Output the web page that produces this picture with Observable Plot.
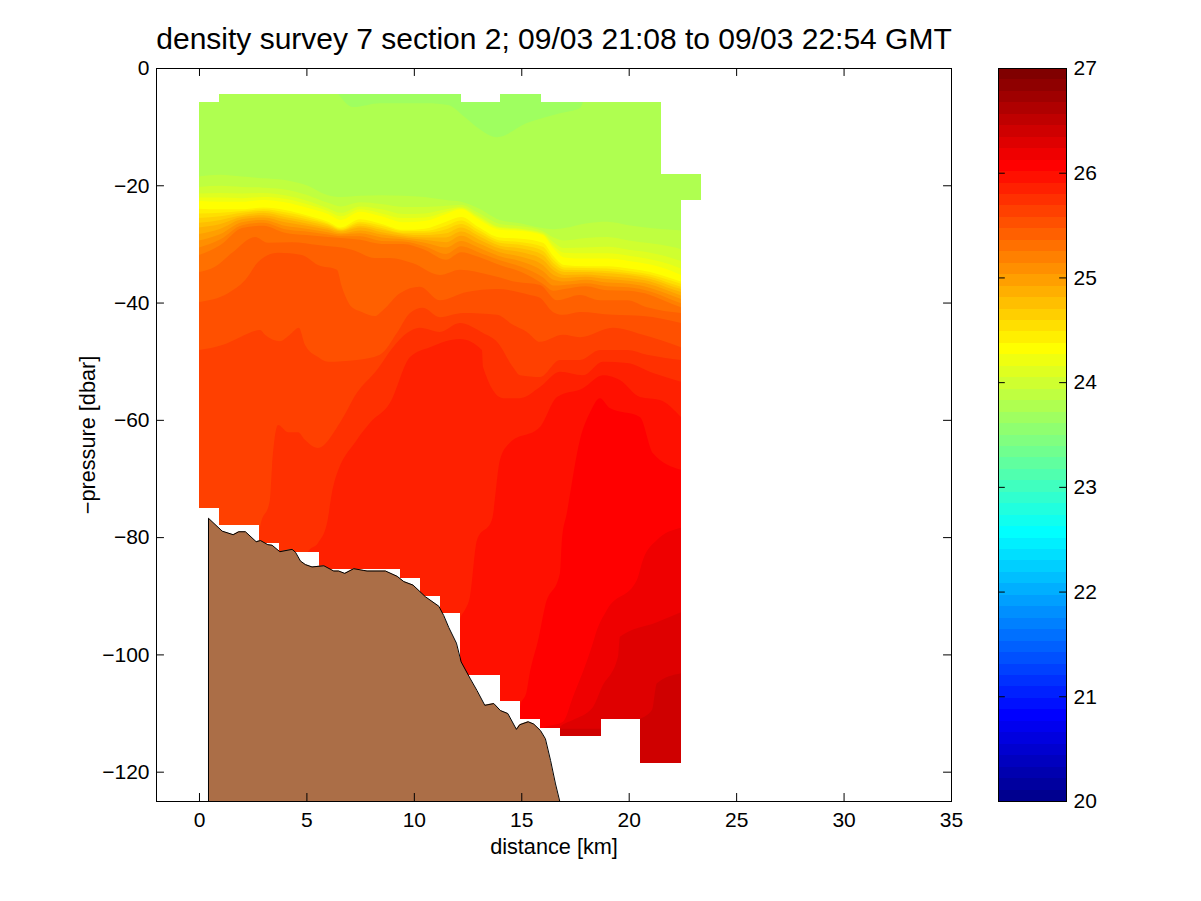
<!DOCTYPE html>
<html><head><meta charset="utf-8">
<script src="https://cdn.jsdelivr.net/npm/d3@7"></script>
<script src="https://cdn.jsdelivr.net/npm/@observablehq/plot@0.6"></script>
<style>html,body{margin:0;padding:0;background:#fff;overflow:hidden}#wrap{position:relative;width:1201px;height:901px}#wrap svg{position:absolute;left:0;top:0;display:block;background:none}</style>
</head><body><div id="wrap"></div>
<script>
const titleText = "density survey 7 section 2; 09/03 21:08 to 09/03 22:54 GMT";
const xTicks = [0,5,10,15,20,25,30,35];
const yTicks = [0,-20,-40,-60,-80,-100,-120];
const cTicks = [20,21,22,23,24,25,26,27];

// section outline (km, pressure)
const topKm = [-2,0,.93,12.19,14.01,15.92,21.5,23.36,35];
const topP  = [125,5.8,4.4,5.8,4.4,5.8,18.1,125,125];
const botKm = [-2,0,.93,2.79,3.72,5.58,9.35,10.28,11.21,12.14,14.01,14.94,15.87,16.8,18.71,20.52,22.43,23.36,35];
const botP  = [0,75,77.9,81,82.5,85.4,87,90,92.9,103.5,107.9,111,112.5,113.9,111,118.5,22.5,0,0];

// bathymetry
const seabedKm = [.42,.42,1.06,1.57,1.83,2.14,2.64,2.84,3.18,3.38,3.74,4.31,4.47,4.7,4.93,5.24,5.79,6.25,6.48,6.76,7.18,7.65,7.8,8.66,9.2,9.51,9.94,10.52,11.14,11.37,11.6,11.96,12.18,12.61,12.92,13.28,13.7,14.01,14.35,14.75,14.91,15.3,15.56,15.87,16.1,16.34,16.57,16.77];
const seabedP  = [125,76.7,78.9,79.5,79,79,80.7,80.5,81.2,81.3,82.4,82,82.5,84,84.6,85,84.8,85.7,85.7,86.1,85.3,85.6,85.7,85.7,86.6,87.5,88.1,90.1,91.7,93.3,95.3,98,101.2,104.1,106.1,108.6,108.3,109.5,110,112.7,111.9,111.4,111.8,112.9,114.3,118,122,125];

// lighter near-surface patch
const patchKm = [6.47,7.17,8.42,10.61,11.59,12.38,12.94,13.87,15.26,16.8,17.73,17.87];
const patchP  = [4.4,6.65,6,6,6.3,8.4,10.1,11.8,9.4,7.7,6.8,5.8];

// isopycnals through the pycnocline, on one shared distance list
const gridKm = [0,1,2,3,4,5,6,6.6,7.5,8.5,9.5,10.5,11.5,12.2,13,14,15,16,16.5,17,18,19,20,21,22,22.43];
const iso36 = [18.5,18.2,18.5,18.8,19.1,20,21.7,22,21.8,21.7,21.8,22,22.5,22.8,23.9,25.9,26.5,27.3,27.5,27.3,26.5,26.2,26.8,27.3,27.6,27.7];
const iso37 = [20.3,20.1,20.3,20.4,20.7,21.6,23,23.6,22.9,23.2,23.7,23.7,23.5,23.3,24.7,26.6,27,27.8,28.9,29.4,29,28.8,29.4,29.9,30.5,30.9];
const iso38 = [21.4,21.3,21.4,21.3,21.7,22.6,23.9,24.7,23.6,24.1,24.9,24.8,24.1,23.7,25.2,27.1,27.4,28.1,29.7,30.7,30.6,30.5,31,31.5,32.4,32.9];
const iso39 = [22.1,22.1,22.2,22,22.3,23.2,24.4,25.3,24.1,24.8,25.6,25.5,24.5,23.9,25.5,27.3,27.6,28.3,30.3,31.5,31.6,31.6,32,32.6,33.6,34.2];
const iso40 = [22.7,22.8,22.8,22.5,22.9,23.8,24.9,25.9,24.5,25.3,26.3,26.1,24.9,24.1,25.8,27.6,27.8,28.5,30.8,32.3,32.5,32.5,32.9,33.5,34.6,35.3];
const iso41 = [24,24.1,24.1,23.8,24.2,25.1,26.2,27.2,25.8,26.6,27.6,27.4,26.2,25.4,27.1,28.9,29.1,29.8,32.1,33.6,33.8,33.8,34.2,34.8,35.9,36.4];
const iso42 = [24.8,24.7,24.4,24.1,24.6,25.4,26.5,27.4,26.2,26.9,27.8,27.8,26.9,26,27.6,29.4,29.7,30.5,32.7,34,34.1,34.2,34.6,35.2,36.3,36.8];
const iso43 = [25.6,25.3,24.7,24.4,25,25.8,26.7,27.6,26.5,27.3,28.1,28.1,27.5,26.6,28.1,29.8,30.2,31.2,33.3,34.4,34.5,34.6,35,35.6,36.8,37.3];
const iso44 = [26.4,25.9,25.1,24.7,25.4,26.1,27,27.7,26.9,27.6,28.3,28.5,28.2,27.2,28.6,30.3,30.8,31.9,33.9,34.8,34.8,35,35.3,36,37.2,37.7];
const iso45 = [27.2,26.6,25.4,25.1,25.8,26.5,27.3,27.9,27.2,28,28.6,28.9,28.9,27.9,29.2,30.8,31.4,32.7,34.5,35.3,35.2,35.5,35.8,36.4,37.7,38.2];
const iso46 = [28.3,27.4,25.8,25.5,26.3,26.9,27.6,28.2,27.7,28.4,28.9,29.3,29.7,28.6,29.9,31.4,32.2,33.6,35.3,35.8,35.6,36,36.3,36.9,38.2,38.8];
const iso47 = [29.4,28.3,26.3,25.9,26.9,27.4,28,28.4,28.2,28.9,29.2,29.8,30.6,29.5,30.6,32.1,33,34.6,36.1,36.4,36.1,36.6,36.8,37.5,38.8,39.4];
const iso48 = [30.6,29.2,26.8,26.4,27.5,27.9,28.4,28.7,28.7,29.5,29.6,30.4,31.7,30.4,31.4,32.8,33.9,35.7,37.1,37,36.7,37.2,37.4,38.1,39.5,40.1];
const iso49 = [31.9,30.2,27.3,26.9,28.1,28.5,28.8,29,29.3,30,30,31,32.7,31.4,32.2,33.6,34.8,36.8,38,37.7,37.2,37.9,38,38.7,40.2,40.8];

// deeper isopycnals, each with its own distances
const km50 = [0,.74,1.54,2.61,3.21,4.33,5.54,7.12,8.19,8.89,9.96,11.21,12.14,13.54,14.8,15.87,16.66,17.73,18.66,19.92,20.85,22.43];
const iso50 = [34.8,33.9,31.5,28.8,29.8,29.7,30.2,31,32.4,32.4,33.3,35.3,34.4,35.3,36.5,37,39.6,38.7,39.6,39.6,40.8,41.8];
const km51 = [0,1.35,2.14,2.75,3.68,4.79,5.54,6.42,6.65,7.12,7.58,8.19,8.56,9.35,10.28,11.21,12.47,13.87,15.4,15.87,16.47,16.94,17.73,19.26,20.66,22.43];
const iso51 = [39.9,38.4,36.2,33.1,31.5,31.9,33.6,34.4,37.3,40.8,41.6,42.3,41.3,38.4,37.3,39.6,38.2,37.7,38.7,39.2,41.6,42.1,41.6,42.1,42.3,43.5];
const km52 = [0,1.12,1.91,2.84,3.07,3.77,4.23,4.65,4.93,5.54,6,7.35,8.42,9.21,9.82,10.42,11.21,12.28,13.87,14.61,15.26,15.87,16.94,17.73,19.26,20.66,22.43];
const iso52 = [48.1,47.2,45.9,44.7,45.5,46.6,45.5,44.3,47.2,49.3,50.1,49.8,48.9,45.2,41.8,40.9,42.5,41.8,42.1,43.8,45,46.7,45.5,45.9,44.3,45.5,47.6];
const km53 = [0,2.37,2.84,3.3,3.4,3.68,4.14,4.61,4.93,5.54,6.56,7.35,8.28,9.03,9.68,10.28,11.21,12.14,13.22,13.87,14.61,14.94,15.87,16.8,17.73,18.66,19.92,20.85,22.43];
const iso53 = [125,125,78.3,73.7,68,60.9,62.1,62.1,63.4,64.8,60.5,55.4,51.5,47.6,45.2,44.3,45,43.5,45.2,46.7,51,52.4,52.7,49.8,49.8,48.1,48.1,48.9,49.8];
const km54 = [0,4.7,5.07,5.54,5.96,6.24,7.35,7.96,8.89,9.82,10.75,12.14,13.17,13.22,14.15,14.94,15.87,16.8,17.87,18.8,19.92,21.13,22.43];
const iso54 = [125,125,82.5,81,77.6,71.5,63.4,60.5,57.1,49.3,47.6,46.2,48.1,51,56.3,56.3,54.4,51.8,52.4,50.1,50.3,52,53.5];
const km55 = [0,11.91,12.14,12.38,12.61,12.94,13.63,14.01,14.47,15.87,16.66,17.87,18.8,19.59,20.52,21.45,22.43];
const iso55 = [125,125,94.1,92.4,90.2,80.5,77.1,66.8,63.9,61.2,56.1,54.6,52.4,53.2,56.1,56.6,59.5];
const km56 = [0,14.7,14.94,15.26,15.36,15.82,16.1,16.8,16.89,17.12,17.73,18.19,18.66,19.12,20.52,21.13,22.43];
const iso56 = [125,125,109,106.1,103.9,97,91.9,86.1,80.5,75.9,63.4,58.8,56.3,58,59.5,65.7,68.5];
const km57 = [0,15.64,16.01,16.94,17.4,18.33,18.47,18.99,20.38,20.66,21.31,22.43];
const iso57 = [125,125,112.6,111.5,107.3,98.1,96.4,92.4,87.3,83.9,80.5,78.4];
const km58 = [0,16.43,16.8,17.4,18.33,18.75,19.5,19.59,21.31,22.43];
const iso58 = [125,125,112.4,111.2,109,105.6,100.4,97,94.5,92.8];
const km59 = [0,16.43,16.8,18.66,20.52,21.08,21.31,22.43];
const iso59 = [125,125,112.7,112.7,111,109.5,104.9,103.2];

// band number in the 64-step rainbow, for each isopycnal above
const contours = [
  [36,gridKm,iso36],[37,gridKm,iso37],[38,gridKm,iso38],[39,gridKm,iso39],[40,gridKm,iso40],
  [41,gridKm,iso41],[42,gridKm,iso42],[43,gridKm,iso43],[44,gridKm,iso44],[45,gridKm,iso45],
  [46,gridKm,iso46],[47,gridKm,iso47],[48,gridKm,iso48],[49,gridKm,iso49],[50,km50,iso50],
  [51,km51,iso51],[52,km52,iso52],[53,km53,iso53],[54,km54,iso54],[55,km55,iso55],
  [56,km56,iso56],[57,km57,iso57],[58,km58,iso58],[59,km59,iso59]
];

// rainbow colormap (64 steps)
function jet(i){ // i = 1..64
  const r = i<=24?0:i<=40?(i-24)/16:i<=56?1:1-(i-56)/16;
  const g = i<=8?0:i<=24?(i-8)/16:i<=40?1:i<=56?1-(i-40)/16:0;
  const b = i<=8?.5+i/16:i<=24?1:i<=40?1-(i-24)/16:0;
  return d3.rgb(r*255,g*255,b*255).formatHex();
}
const jet64 = d3.range(1,65).map(jet);
const bandRho = i => 20+(i-.5)*7/64;
const thresholds = d3.range(1,64).map(i=>20+i*7/64);
const colorOpt = {type:"threshold",domain:thresholds,range:jet64};
const zip = (k,p,extra={}) => k.map((km,i)=>({km,p:p[i],...extra}));
const minus = d => d<0?`\u2212${-d}`:`${d}`;

const rows = contours.flatMap(([i,k,p])=>zip(k,p,{rho:bandRho(i)}));
const base = [{km:0,rho:bandRho(35)},{km:23.36,rho:bandRho(35)}];
const patch = zip(patchKm,patchP,{rho:bandRho(34)});
const FONT = "'Liberation Sans',Arial,Helvetica,sans-serif";

const main = Plot.plot({
  width:1201,height:901,marginLeft:156,marginRight:250,marginTop:68,marginBottom:100,
  style:{fontFamily:FONT,background:"transparent",color:"#000"},
  x:{domain:[-2,35],label:null},
  y:{domain:[-125,0],label:null},
  color:colorOpt,
  marks:[
    Plot.areaY(base,{x:"km",y1:()=>0,y2:()=>-125,fill:"rho",shapeRendering:"crispEdges"}),
    Plot.areaY(patch,{x:"km",y1:d=>-d.p,y2:()=>0,fill:"rho",curve:"monotone-x"}),
    Plot.areaY(rows,{x:"km",y1:d=>-d.p,y2:()=>-125,fill:"rho",z:"rho",curve:"monotone-x"}),
    Plot.areaY(zip(topKm,topP),{x:"km",y1:()=>0,y2:d=>-d.p,fill:"#fff",curve:"step-after",shapeRendering:"crispEdges"}),
    Plot.areaY(zip(botKm,botP),{x:"km",y1:d=>-d.p,y2:()=>-125,fill:"#fff",curve:"step-after",shapeRendering:"crispEdges"}),
    Plot.areaY(zip(seabedKm,seabedP),{x:"km",y1:d=>-d.p,y2:()=>-125,fill:"#ab6e47"}),
    Plot.line(zip(seabedKm,seabedP),{x:"km",y:d=>-d.p,stroke:"#000",strokeWidth:1}),
    Plot.ruleX(xTicks,{x:d=>d,y1:()=>0,y2:()=>-1.36,stroke:"#000"}),
    Plot.ruleX(xTicks,{x:d=>d,y1:()=>-125,y2:()=>-123.64,stroke:"#000"}),
    Plot.ruleY(yTicks,{y:d=>d,x1:()=>-2,x2:()=>-1.63,stroke:"#000"}),
    Plot.ruleY(yTicks,{y:d=>d,x1:()=>35,x2:()=>34.63,stroke:"#000"}),
    Plot.frame({stroke:"#000",strokeWidth:1}),
    Plot.axisX(xTicks,{anchor:"bottom",tickSize:0,tickPadding:11,fontSize:21,label:null,tickFormat:minus}),
    Plot.axisY(yTicks,{anchor:"left",tickSize:0,tickPadding:7,fontSize:21,label:null,tickFormat:minus}),
    Plot.text([titleText],{frameAnchor:"top",lineAnchor:"middle",dy:-29,fontSize:30,text:d=>d,fill:"#000"}),
    Plot.text(["distance [km]"],{frameAnchor:"bottom",lineAnchor:"middle",dy:46,fontSize:21.7,text:d=>d,fill:"#000"}),
    Plot.text(["\u2212pressure [dbar]"],{frameAnchor:"left",textAnchor:"middle",lineAnchor:"middle",dx:-68,rotate:-90,fontSize:21.7,text:d=>d,fill:"#000"})
  ]
});

const bar = Plot.plot({
  width:1201,height:901,marginLeft:998,marginRight:135,marginTop:68,marginBottom:100,
  style:{fontFamily:FONT,background:"transparent",color:"#000"},
  x:{domain:[0,1],axis:null},
  y:{domain:[20,27],label:null},
  color:colorOpt,
  marks:[
    Plot.rect(d3.range(1,65),{x1:()=>0,x2:()=>1,y1:i=>20+(i-1)*7/64,y2:i=>20+i*7/64,fill:i=>bandRho(i),shapeRendering:"crispEdges"}),
    Plot.ruleY(cTicks,{y:d=>d,x1:()=>0,x2:()=>.1,stroke:"#000"}),
    Plot.ruleY(cTicks,{y:d=>d,x1:()=>1,x2:()=>.9,stroke:"#000"}),
    Plot.frame({stroke:"#000",strokeWidth:1}),
    Plot.axisY(cTicks,{anchor:"right",tickSize:0,tickPadding:7,fontSize:21,label:null,tickFormat:minus})
  ]
});
const wrap = document.getElementById("wrap");
wrap.append(main,bar);
</script></body></html>
